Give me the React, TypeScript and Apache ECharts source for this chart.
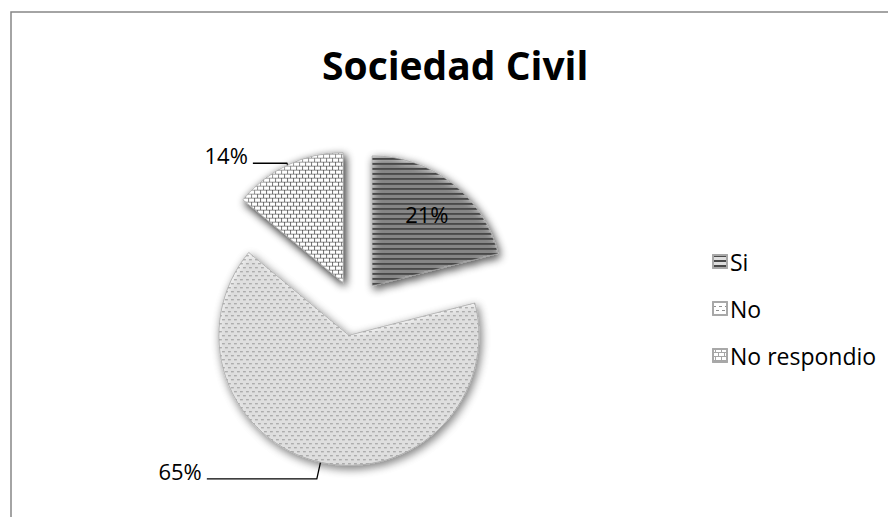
import React, { useEffect, useRef } from "react";
import * as echarts from "echarts";

const chartTitle = "Sociedad Civil";
const categories = ["Si", "No", "No respondio"];
const values = [21, 65, 14];

const FONT = "'Open Sans', 'Noto Sans', sans-serif";

const fills = ["#dedede", "#ffffff", "#a6a6a6"];
const decals: any[] = [
  { symbol: "rect", symbolSize: 1, dashArrayX: [20, 0], dashArrayY: [1.5, 2.5], color: "#4a4a4a", rotation: 0 },
  { symbol: "rect", symbolSize: 1, dashArrayX: [[3, 3], [0, 3, 3, 0]], dashArrayY: [1, 2.5], color: "#909090", rotation: 0 },
  { symbol: "rect", symbolSize: 1, dashArrayX: [[5, 1], [2, 1, 3, 0]], dashArrayY: [3, 1], color: "#ffffff", rotation: 0 },
];

export default function App() {
  const ref = useRef<HTMLDivElement>(null);
  useEffect(() => {
    if (!ref.current) return;
    const chart = echarts.init(ref.current, null, { renderer: "svg" });
    const pct = (p: any) => Math.round(p.percent) + "%";
    const labelCfg: any[] = [
      { position: "inside", formatter: (p: any) => `{w| }{t|${pct(p)}}\n{h| }` },
      { position: "outside", formatter: (p: any) => `{t|${pct(p)}}\n{g| }` },
      { position: "outside", formatter: (p: any) => `{t|${pct(p)}}\n{g| }` },
    ];
    const lineCfg: any[] = [
      { show: false },
      { show: true, length: 17, length2: 110, smooth: false, lineStyle: { color: "#000", width: 1.3 } },
      { show: true, length: 2, length2: 34, smooth: false, lineStyle: { color: "#000", width: 1.3 } },
    ];
    chart.setOption({
      animation: false,
      backgroundColor: "#ffffff",
      title: {
        text: chartTitle,
        left: 317,
        top: 40,
        textStyle: { fontFamily: FONT, fontWeight: "bold", fontSize: 39, color: "#000" },
      },
      legend: {
        orient: "vertical",
        left: 707,
        top: 245,
        itemWidth: 14,
        itemHeight: 13,
        itemGap: 24,
        icon: "rect",
        selectedMode: false,
        data: categories,
        textStyle: { fontFamily: FONT, fontSize: 23, color: "#000", padding: [0, 0, 0, -2] },
      },
      graphic: [
        {
          type: "rect",
          shape: { x: 11, y: 12, width: 1000, height: 1000 },
          style: { fill: "none", stroke: "#868686", lineWidth: 1.5 },
          silent: true,
        },
      ],
      series: [
        {
          type: "pie",
          center: [355, 308],
          radius: 130,
          startAngle: 90,
          clockwise: true,
          selectedMode: "multiple",
          selectedOffset: 28,
          avoidLabelOverlap: false,
          emphasis: { disabled: true },
          itemStyle: {
            borderColor: "#a8a8a8",
            borderWidth: 0.5,
            shadowBlur: 8,
            shadowColor: "rgba(0,0,0,0.4)",
            shadowOffsetX: 2,
            shadowOffsetY: 3,
          },
          label: {
            show: true,
            fontFamily: FONT,
            fontSize: 22,
            color: "#000",
            rich: {
              t: { fontFamily: FONT, fontSize: 22, color: "#000", lineHeight: 26 },
              g: { fontSize: 1, lineHeight: 16 },
              h: { fontSize: 1, lineHeight: 36 },
              w: { fontSize: 1, width: 26 },
            },
          },
          data: categories.map((name, i) => ({
            name,
            value: values[i],
            selected: true,
            itemStyle: { color: fills[i], decal: decals[i] },
            label: labelCfg[i],
            labelLine: lineCfg[i],
          })),
        },
      ],
    });
    return () => chart.dispose();
  }, []);
  return (
    <div
      ref={ref}
      style={{ position: "absolute", left: 0, top: 0, width: 888, height: 517 }}
    />
  );
}
